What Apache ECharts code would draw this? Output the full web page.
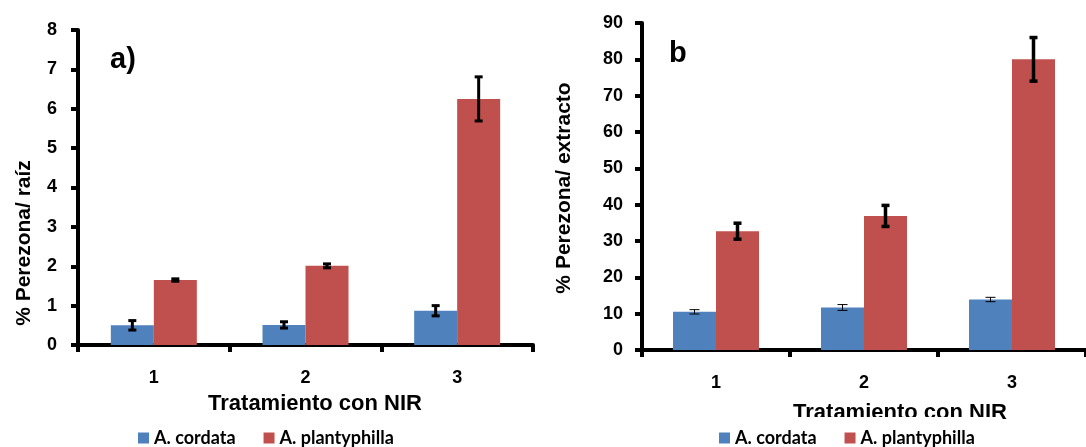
<!DOCTYPE html>
<html>
<head>
<meta charset="utf-8">
<script src="https://cdn.jsdelivr.net/npm/echarts@6/dist/echarts.min.js"></script>
<style>
  html, body { margin: 0; padding: 0; background: #fff; }
  #chart { width: 1086px; height: 447px; }
</style>
</head>
<body>
<div id="chart"></div>
<script>
// ---- data ----
const categories = ['1', '2', '3'];
const seriesNames = ['A. cordata', 'A. plantyphilla'];

// panel a) % Perezona / raíz
const raizCordata = [0.50, 0.51, 0.87];
const raizCordataErr = [0.12, 0.08, 0.13];
const raizPlanty = [1.65, 2.01, 6.25];
const raizPlantyErr = [0.03, 0.05, 0.56];

// panel b) % Perezona / extracto
const extCordata = [10.5, 11.7, 13.9];
const extCordataErr = [0.6, 0.8, 0.6];
const extPlanty = [32.7, 36.9, 80.0];
const extPlantyErr = [2.2, 2.9, 6.0];

const yTicksA = { min: 0, max: 8, interval: 1 };
const yTicksB = { min: 0, max: 90, interval: 10 };

// ---- styling ----
const BLUE = '#4F81BD';
const RED = '#C0504D';
const BAR_W = 43;
const TICK_FONT = '"Liberation Sans", Arial, sans-serif';
const LEGEND_FONT = 'Lato, "Open Sans", sans-serif';
const TITLE_FONT = '"Liberation Sans", Arial, sans-serif';

function errData(vals, errs) {
  return vals.map((v, i) => [i, v, errs[i]]);
}

function errRenderer(side, lw, capHalf) {
  return function (params, api) {
    const idx = api.value(0), v = api.value(1), e = api.value(2);
    const p = api.coord([idx, v]);
    const cx = p[0] + side * BAR_W / 2;
    const yTop = api.coord([idx, v + e])[1];
    const yBot = api.coord([idx, v - e])[1];
    const style = { stroke: '#000', lineWidth: lw };
    return {
      type: 'group',
      children: [
        { type: 'line', shape: { x1: cx, y1: yTop, x2: cx, y2: yBot }, style },
        { type: 'line', shape: { x1: cx - capHalf, y1: yTop, x2: cx + capHalf, y2: yTop }, style },
        { type: 'line', shape: { x1: cx - capHalf, y1: yBot, x2: cx + capHalf, y2: yBot }, style }
      ]
    };
  };
}

function xAxisCfg(gridIndex) {
  return {
    type: 'category', gridIndex: gridIndex, data: categories, boundaryGap: true,
    axisLine: { show: true, lineStyle: { color: '#000', width: 4 } },
    axisTick: { show: true, length: 7, lineStyle: { color: '#000', width: 4 } },
    axisLabel: { show: true, color: '#000', fontFamily: TICK_FONT, fontWeight: 'bold', fontSize: 18, margin: 24 },
    splitLine: { show: false }
  };
}
function yAxisCfg(gridIndex, t, margin) {
  return {
    type: 'value', gridIndex: gridIndex, min: t.min, max: t.max, interval: t.interval,
    axisLine: { show: true, lineStyle: { color: '#000', width: 4 } },
    axisTick: { show: true, length: 7, lineStyle: { color: '#000', width: 4 } },
    axisLabel: { show: true, color: '#000', fontFamily: TICK_FONT, fontWeight: 'bold', fontSize: 18, margin: margin },
    splitLine: { show: false }
  };
}

const legendText = { color: '#000', fontFamily: LEGEND_FONT, fontWeight: 'bold', fontSize: 18, lineHeight: 18 };

const option = {
  animation: false,
  backgroundColor: '#fff',
  grid: [
    { left: 78, top: 30, width: 455, height: 315 },
    { left: 642, top: 23, width: 451, height: 327 }
  ],
  xAxis: [xAxisCfg(0), xAxisCfg(1)],
  yAxis: [yAxisCfg(0, yTicksA, 21), yAxisCfg(1, yTicksB, 19)],
  legend: [
    {
      data: seriesNames, left: 138, top: 429, padding: 0, itemGap: 28,
      itemWidth: 11, itemHeight: 11, icon: 'rect', textStyle: legendText
    },
    {
      data: seriesNames, left: 639, top: 417, padding: [12, 25, 6, 80], itemGap: 28,
      itemWidth: 11, itemHeight: 11, icon: 'rect', textStyle: legendText,
      backgroundColor: '#fff'
    }
  ],
  graphic: [
    { type: 'text', z: 0, left: 110, top: 45, style: { text: 'a)', font: 'bold 29px ' + TITLE_FONT, fill: '#000' } },
    { type: 'text', z: 0, left: 669, top: 39, style: { text: 'b', font: 'bold 29px ' + TITLE_FONT, fill: '#000' } },
    { type: 'text', z: 0, x: 24, y: 243, rotation: Math.PI / 2,
      style: { text: '% Perezona/ raíz', font: 'bold 21px ' + TITLE_FONT, fill: '#000', align: 'center', verticalAlign: 'middle' } },
    { type: 'text', z: 0, x: 564, y: 188, rotation: Math.PI / 2,
      style: { text: '% Perezona/ extracto', font: 'bold 21px ' + TITLE_FONT, fill: '#000', align: 'center', verticalAlign: 'middle' } },
    { type: 'text', z: 0, x: 315, y: 404,
      style: { text: 'Tratamiento con NIR', font: 'bold 22px ' + TITLE_FONT, fill: '#000', align: 'center', verticalAlign: 'middle' } },
    { type: 'text', z: 0, x: 900, y: 413,
      style: { text: 'Tratamiento con NIR', font: 'bold 22px ' + TITLE_FONT, fill: '#000', align: 'center', verticalAlign: 'middle' } }
  ],
  series: [
    { name: seriesNames[0], type: 'bar', xAxisIndex: 0, yAxisIndex: 0, data: raizCordata, barWidth: BAR_W, barGap: '0%', itemStyle: { color: BLUE } },
    { name: seriesNames[1], type: 'bar', xAxisIndex: 0, yAxisIndex: 0, data: raizPlanty, barWidth: BAR_W, barGap: '0%', itemStyle: { color: RED } },
    { name: seriesNames[0], type: 'bar', xAxisIndex: 1, yAxisIndex: 1, data: extCordata, barWidth: BAR_W, barGap: '0%', itemStyle: { color: BLUE } },
    { name: seriesNames[1], type: 'bar', xAxisIndex: 1, yAxisIndex: 1, data: extPlanty, barWidth: BAR_W, barGap: '0%', itemStyle: { color: RED } },
    { type: 'custom', xAxisIndex: 0, yAxisIndex: 0, z: 5, data: errData(raizCordata, raizCordataErr), encode: { x: 0, y: 1 }, renderItem: errRenderer(-1, 3, 4) },
    { type: 'custom', xAxisIndex: 0, yAxisIndex: 0, z: 5, data: errData(raizPlanty, raizPlantyErr), encode: { x: 0, y: 1 }, renderItem: errRenderer(1, 3, 4) },
    { type: 'custom', xAxisIndex: 1, yAxisIndex: 1, z: 5, data: errData(extCordata, extCordataErr), encode: { x: 0, y: 1 }, renderItem: errRenderer(-1, 1, 5) },
    { type: 'custom', xAxisIndex: 1, yAxisIndex: 1, z: 5, data: errData(extPlanty, extPlantyErr), encode: { x: 0, y: 1 }, renderItem: errRenderer(1, 3.5, 4) }
  ]
};

const chart = echarts.init(document.getElementById('chart'), null, { renderer: 'canvas' });
chart.setOption(option);
</script>
</body>
</html>
